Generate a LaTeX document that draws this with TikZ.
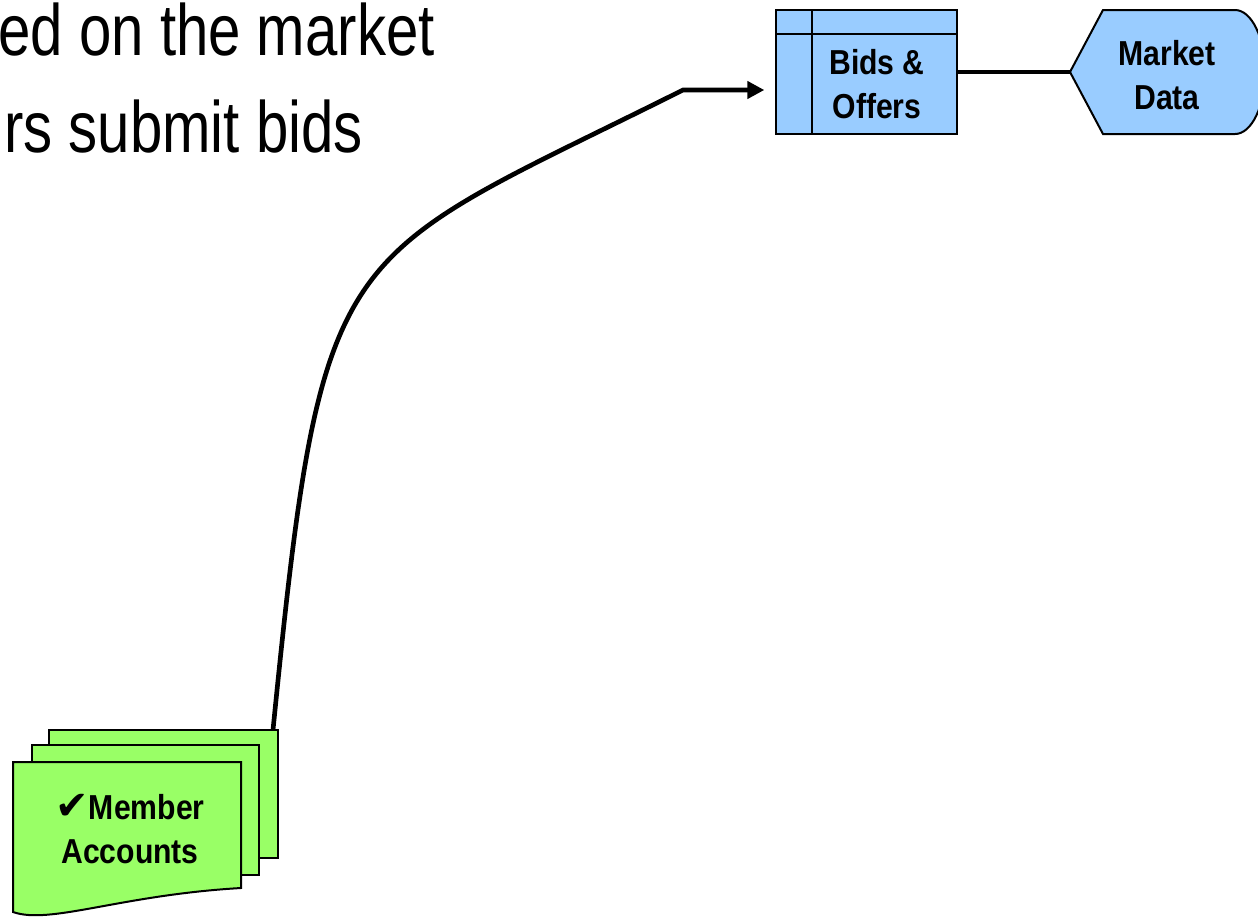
\documentclass[tikz,border=0pt]{standalone}
\usepackage{fontspec}
\setmainfont{Liberation Sans}[FakeStretch=0.87]
\newfontfamily\slidefont{Liberation Sans}[FakeStretch=0.80]
\newfontfamily\symfont{DejaVu Sans}
\usetikzlibrary{arrows.meta}
\definecolor{docgreen}{HTML}{99FF66}
\definecolor{tableblue}{HTML}{99CCFF}
\tikzset{
  slidetext/.style={anchor=base east, inner sep=0pt, font=\slidefont\fontsize{54.5}{60}\selectfont},
  boxtext/.style={inner sep=0pt, align=center, font=\fontsize{26}{33}\selectfont\bfseries},
  outline/.style={draw=black, line width=1.5pt, line join=miter},
  link/.style={draw=black, line width=3.5pt},
}
\begin{document}
\begin{tikzpicture}[x=0.75pt, y=-0.75pt]
\useasboundingbox (0,0) rectangle (1258,922);
\clip (0,0) rectangle (1258,922);

% bullet text of the slide
\node[slidetext] (line1) at (435,55) {ed on the market};
\node[slidetext] (line2) at (363,152) {rs submit bids};

% data table: Bids & Offers
\node[outline, fill=tableblue, minimum width=135.75pt, minimum height=93pt, inner sep=0pt] (bids) at (866.5,72) {};
\coordinate (vx) at (812,0);
\coordinate (hy) at (0,34);
\draw[outline] (bids.north -| vx) -- (bids.south -| vx);
\draw[outline] (bids.west |- hy) -- (bids.east |- hy);
\node[boxtext] (bidstext) at (877,84) {Bids \&\\Offers};

% display shape: Market Data
\draw[outline, fill=tableblue] (1070,72) -- (1103,10) -- (1235,10)
  arc[start angle=-90, end angle=90, x radius=30, y radius=62]
  -- (1103,134) -- cycle;
\coordinate (mdtip) at (1070,72);
\node[boxtext] (market) at (1167,75) {Market\\Data};

% stacked documents: Member Accounts
\draw[outline, fill=docgreen] (49,730) rectangle (278,858);
\draw[outline, fill=docgreen] (32,745) rectangle (259,875);
\draw[outline, fill=docgreen] (13,762) -- (241,762) -- (241,888)
  .. controls (120,895) and (50,925) .. (13,912) -- cycle;
\node[boxtext] (member) at (130,829) {{\symfont\fontsize{30}{33}\selectfont ✔}Member\\Accounts};
\coordinate (acctop) at (273,730);

% connectors
\coordinate (bend) at (683,90);
\draw[link, -{Triangle[length=12.75pt, width=12.75pt]}, shorten >=8pt]
  (acctop) .. controls (323,230) and (333,265) .. (bend) -- (bids.west |- bend);
\draw[link] (bids.east) -- (mdtip);
\end{tikzpicture}
\end{document}
